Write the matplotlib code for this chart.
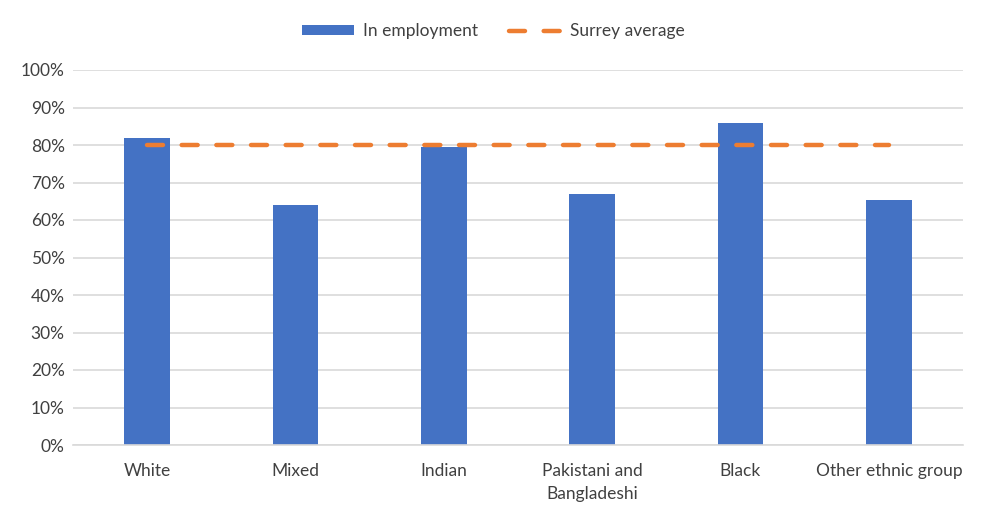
import matplotlib.pyplot as plt
from matplotlib.ticker import PercentFormatter

plt.rcParams['font.family'] = ['Lato', 'DejaVu Sans']

# Data
groups = ['White', 'Mixed', 'Indian', 'Pakistani and\nBangladeshi', 'Black', 'Other ethnic group']
in_employment = [0.818, 0.640, 0.796, 0.669, 0.859, 0.653]
surrey_average = [0.80] * len(groups)

fig = plt.figure(figsize=(9.87, 5.17), dpi=100)
ax = fig.add_axes([73 / 987, 1 - 445 / 517, 890 / 987, 375 / 517])

x = range(len(groups))
bars = ax.bar(x, in_employment, width=0.31, color='#4472C4', label='In employment', zorder=2)
line, = ax.plot(x, surrey_average, color='#ED7D31', lw=3.2, linestyle=(0, (3.6, 4.2)),
                dash_capstyle='round', label='Surrey average', zorder=3)

ax.set_xlim(-0.5, len(groups) - 0.5)
ax.set_ylim(0, 1)
ax.set_yticks([i / 10 for i in range(11)])
ax.yaxis.set_major_formatter(PercentFormatter(1.0, decimals=0))
ax.set_xticks(list(x))
ax.set_xticklabels(groups, linespacing=1.5)
ax.grid(axis='y', color='#D9D9D9', lw=1.2, zorder=0)
for s in ['top', 'right', 'left']:
    ax.spines[s].set_visible(False)
ax.spines['bottom'].set_color('#D9D9D9')
ax.spines['bottom'].set_linewidth(1.2)
ax.tick_params(length=0, labelsize=12.5, colors='#404040', pad=13)
ax.tick_params(axis='y', pad=6)

fig.legend([bars, line], ['In employment', 'Surrey average'], loc='upper center',
           bbox_to_anchor=(0.5, 0.985), ncol=2, frameon=False, fontsize=12.5,
           handlelength=3.0, handleheight=0.5, handletextpad=0.5, columnspacing=1.8,
           labelcolor='#404040')

fig.savefig('out.png', dpi=100)
